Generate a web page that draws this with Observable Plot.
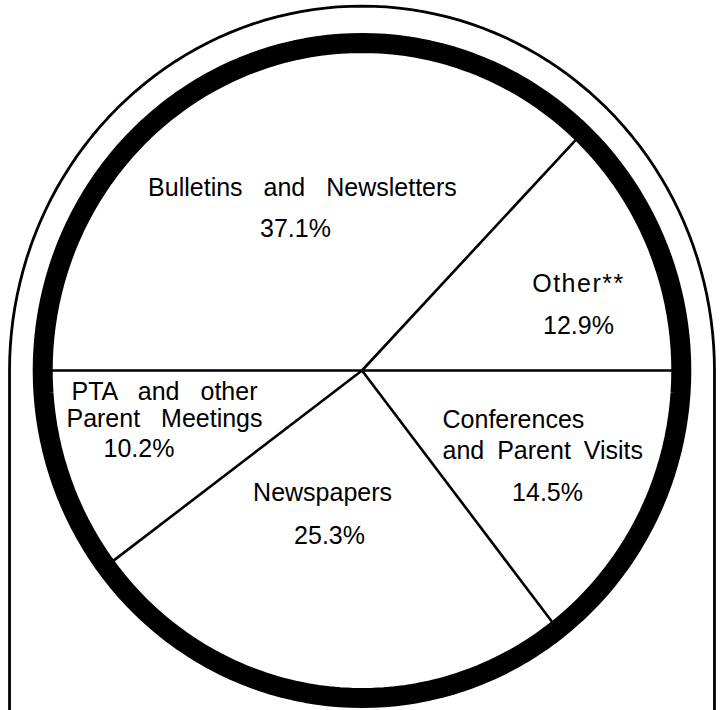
<!DOCTYPE html>
<html>
<head>
<meta charset="utf-8">
<script src="https://cdn.jsdelivr.net/npm/d3@7"></script>
<script src="https://cdn.jsdelivr.net/npm/@observablehq/plot@0.6"></script>
<style>
  html, body { margin: 0; padding: 0; background: #fff; }
  #chart svg { display: block; }
</style>
</head>
<body>
<div id="chart"></div>
<script>
// ---- data ----
const categories = [
  "Other**",
  "Bulletins and Newsletters",
  "PTA and other\nParent Meetings",
  "Newspapers",
  "Conferences\nand Parent Visits"
];
const shares = [12.9, 37.1, 10.2, 25.3, 14.5];

// ---- layout ----
const W = 723, H = 710;
const cx = 361.5, cy = 370;      // pie centre in pixels
const rxPx = 310, ryPx = 318;    // inner radius of the ring (slightly oval scan)
const xDomain = [-cx / rxPx, (W - cx) / rxPx];
const yDomain = [-(H - cy) / ryPx, cy / ryPx];
const font = "'Liberation Sans', Arial, Helvetica, sans-serif";
const fs = 25;

// label nudges (pixels) from each slice's centroid
const labelLayout = {
  "Other**": {name: [45.5, -10.8], pct: [45.5, 31.2], anchor: "middle"},
  "Bulletins and Newsletters": {name: [13.8, -7.6], pct: [6.8, 33.4], anchor: "middle"},
  "PTA and other\nParent Meetings": {name: [-21, -25.9], pct: [-46.5, 18.9], anchor: "middle"},
  "Newspapers": {name: [-14.4, -66.6], pct: [-7.4, -23.1], anchor: "middle"},
  "Conferences\nand Parent Visits": {name: [-86.5, -21], pct: [18.5, 39], anchor: "start"}
};

const rows = categories.map((c, i) => ({category: c, share: shares[i]}));
const arcs = d3.pie()
  .value(d => d.share)
  .sort(null)
  .startAngle(Math.PI / 2)
  .endAngle(Math.PI / 2 - 2 * Math.PI)(rows);

const slices = arcs.map(a => {
  const m = (a.startAngle + a.endAngle) / 2;
  const L = labelLayout[a.data.category];
  const mx = 0.6 * Math.sin(m), my = 0.6 * Math.cos(m);
  return {
    category: a.data.category,
    pct: a.data.share.toFixed(1) + "%",
    ex: Math.sin(a.startAngle), ey: Math.cos(a.startAngle),
    nx: mx + L.name[0] / rxPx, ny: my - L.name[1] / ryPx,
    px: mx + L.pct[0] / rxPx, py: my - L.pct[1] / ryPx,
    anchor: L.anchor
  };
});

// ring (ellipse outline) and outer arch frame
const ringR = 1.03;
const ring = d3.range(0, 361, 2).map(t => ({x: ringR * Math.cos(t * Math.PI / 180), y: ringR * Math.sin(t * Math.PI / 180)}));
const archRx = 1.137, archRy = 1.146;
const arch = [{x: archRx, y: yDomain[0]}]
  .concat(d3.range(0, 181, 2).map(t => ({x: archRx * Math.cos(t * Math.PI / 180), y: archRy * Math.sin(t * Math.PI / 180)})))
  .concat([{x: -archRx, y: yDomain[0]}]);

const isPTA = d => d.category.startsWith("PTA");
const isConf = d => d.category.startsWith("Conferences");

const chart = Plot.plot({
  width: W,
  height: H,
  margin: 0,
  x: {domain: xDomain, axis: null},
  y: {domain: yDomain, axis: null},
  style: {background: "#fff", fontFamily: font},
  marks: [
    Plot.line(arch, {x: "x", y: "y", stroke: "#000", strokeWidth: 2.8}),
    Plot.line(ring, {x: "x", y: "y", stroke: "#000", strokeWidth: 20, curve: "linear-closed"}),
    Plot.link(slices, {x1: 0, y1: 0, x2: "ex", y2: "ey", stroke: "#000", strokeWidth: 2.6}),
    Plot.text(slices.filter(d => !isPTA(d) && !isConf(d)), {
      x: "nx", y: "ny", text: "category", fontSize: fs, fill: "#000",
      textAnchor: "middle", fontFamily: font
    }),
    Plot.text(slices.filter(isPTA), {
      x: "nx", y: "ny", text: "category", fontSize: fs, fill: "#000",
      textAnchor: "middle", lineHeight: 1.08, fontFamily: font
    }),
    Plot.text(slices.filter(isConf), {
      x: "nx", y: "ny", text: "category", fontSize: fs, fill: "#000",
      textAnchor: "start", lineHeight: 1.24, fontFamily: font
    }),
    Plot.text(slices, {
      x: "px", y: "py", text: "pct", fontSize: fs, fill: "#000",
      textAnchor: "middle", fontFamily: font
    })
  ]
});

// typographic spacing of the original lettering
d3.select(chart).selectAll("text").each(function () {
  const t = this.textContent;
  if (t.startsWith("Bulletins") || t.startsWith("PTA")) this.style.wordSpacing = "14px";
  else if (t.startsWith("Conferences")) this.style.wordSpacing = "6px";
  else if (t.startsWith("Other")) this.style.letterSpacing = "1.5px";
});

document.getElementById("chart").appendChild(chart);
</script>
</body>
</html>
